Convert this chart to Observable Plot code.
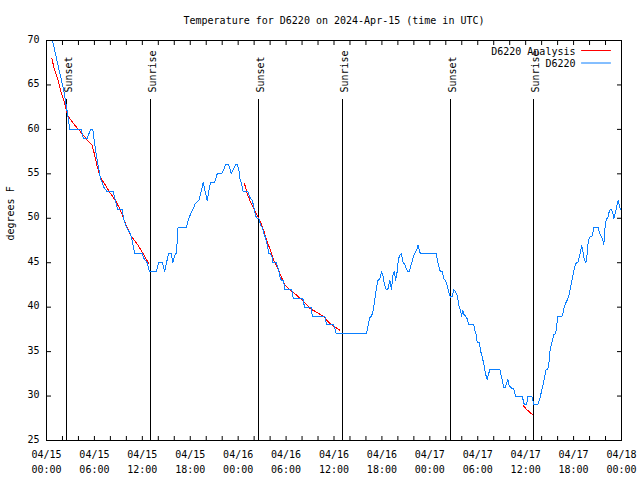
<!DOCTYPE html>
<html><head><meta charset="utf-8">
<script src="https://cdn.jsdelivr.net/npm/d3@7"></script>
<script src="https://cdn.jsdelivr.net/npm/@observablehq/plot@0.6"></script>
<style>body{margin:0;background:#fff}</style>
</head><body><div id="chart"></div>
<script>
const title = "Temperature for D6220 on 2024-Apr-15 (time in UTC)";
const yLabel = "degrees F";
const seriesNames = ["D6220 Analysis", "D6220"];
const seriesColors = ["#ff0000", "#0a7fff"];
const startUTC = "2024-04-15T00:00Z";
const endUTC = "2024-04-18T00:00Z";
const sunsets = ["2024-04-15T02:32Z", "2024-04-16T02:34Z", "2024-04-17T02:35Z"];
const sunrises = ["2024-04-15T13:04Z", "2024-04-16T13:04Z", "2024-04-17T12:59Z"];
const yTicks = [25, 30, 35, 40, 45, 50, 55, 60, 65, 70];

// [hours since 2024-04-15 00:00 UTC, temperature °F]
const obs = [
[0.75,70],[1.25,68],[1.75,66],[2.13,64.5],[2.59,62],[2.92,60],[4.35,60],[4.60,59],[5.10,59],[5.51,60],[5.80,60],[6.01,58.5],[6.17,57.5],[6.35,56.5],[6.55,55.5],[6.76,54.5],[6.97,54],[7.18,53.5],[7.60,53],[8.35,53],[8.64,52],[8.89,51],[9.48,51],[9.64,50],[10.02,49],[10.48,48.3],[10.73,47.5],[11.06,46],[11.98,46],[12.18,45.5],[12.61,45],[12.90,44],[13.77,44],[14.02,45],[14.53,45],[14.78,44],[15.28,46],[15.62,46],[15.82,45],[16.12,46],[16.28,46],[16.34,47],[16.47,49],[17.53,49],[17.82,50],[18.32,51],[18.66,51.7],[19.07,52],[19.37,53],[19.62,54],[20.12,52],[20.32,53],[20.54,54],[21.04,54],[21.38,55],[21.91,55],[22.20,55.5],[22.41,56],[22.83,56],[23.13,55],[23.67,56],[23.92,56],[24.08,55.5],[24.21,54.5],[24.38,54],[24.63,53],[25.21,53],[25.33,52.7],[25.54,52.2],[25.76,52],[25.96,51.3],[26.17,50.3],[26.38,50],[26.58,50],[26.80,49.2],[27.01,49],[27.21,48.3],[27.42,47.8],[27.64,47],[27.84,46],[28.05,46],[28.26,45.6],[28.34,45],[28.76,45],[28.96,44.5],[29.09,44],[29.30,43.2],[29.43,43],[29.68,43],[29.84,42],[30.68,42],[30.77,41.8],[30.89,41],[32.09,41],[32.31,40],[33.15,40],[33.27,39],[34.85,39],[35.06,38],[35.98,38],[36.28,37],[40.03,37],[40.16,37.4],[40.28,38],[40.48,38.8],[40.70,39],[40.91,39.6],[41.07,40.6],[41.20,41.5],[41.36,42.4],[41.49,43],[41.74,43.2],[41.95,44],[42.11,43.6],[42.32,42.6],[42.54,42],[42.74,42],[42.99,43],[43.20,42],[43.41,43.8],[43.58,44],[43.70,43],[43.91,44],[44.04,45.2],[44.20,45.8],[44.42,46],[44.54,45.6],[44.67,45],[44.83,44.9],[45.08,44.3],[45.24,44],[45.45,44],[45.58,44.5],[45.79,45.2],[45.99,45.8],[46.21,46.2],[46.42,46.6],[46.54,47],[46.67,46.4],[46.83,46],[48.80,46],[48.92,45.4],[49.05,44.9],[49.25,44.1],[49.55,44],[49.75,43.2],[49.96,43],[50.18,42.4],[50.38,41.6],[50.59,41.1],[50.80,41.2],[51.00,42],[51.21,41.7],[51.43,41.3],[51.63,40.2],[51.84,39.6],[51.97,39],[52.13,39.6],[52.25,39.2],[52.47,39],[52.68,38.7],[52.88,38],[53.51,38],[53.63,37.4],[53.84,36.8],[53.93,36],[54.22,36],[54.35,35.1],[54.56,34.4],[54.76,33.6],[54.97,32.5],[55.18,31.9],[55.31,32.3],[55.51,33],[56.76,33],[56.94,32.3],[57.10,31.6],[57.26,31],[57.48,31],[57.60,31.4],[57.76,31.9],[57.94,31.2],[58.10,31],[58.32,30.8],[58.52,30.8],[58.73,30],[59.57,30],[59.77,29.2],[59.98,29],[60.11,29],[60.27,30],[60.52,30],[60.82,29.9],[61.02,29],[61.52,29],[61.77,29.7],[61.95,30.4],[62.15,31.2],[62.36,32.1],[62.57,33],[62.77,33],[62.90,33.6],[63.02,35],[63.20,35.7],[63.32,36.2],[63.53,36.9],[63.74,37],[63.86,37.6],[63.95,38.5],[64.03,39],[64.58,39],[64.78,39.8],[64.99,40.4],[65.20,40.8],[65.40,41.3],[65.62,42.2],[65.83,43.2],[66.03,44.1],[66.24,44.8],[66.37,45],[66.53,45],[66.74,45.7],[66.87,46.2],[66.99,46.9],[67.16,46.4],[67.28,45.6],[67.49,45],[67.62,45.2],[67.78,47],[67.91,47.6],[68.12,48],[68.33,48],[68.54,49],[69.08,49],[69.25,48.3],[69.46,48],[69.66,47.5],[69.79,47],[69.87,48.4],[70.00,49.4],[70.12,50],[70.29,50],[70.41,50.6],[70.62,51],[70.75,51],[70.91,50.6],[71.04,50],[71.25,50.7],[71.46,51.6],[71.59,52],[71.75,51.4],[71.88,51]
];

const analysis1 = [[0.66,68],[1.00,66.7],[1.42,65.6],[1.84,64.1],[2.25,63],[2.67,61.5],[3.42,60.6],[4.47,59.5],[5.10,58.8],[5.72,58.2],[6.01,57.2],[6.35,55.8],[6.76,54.6],[7.39,53.7],[8.01,52.8],[8.64,52],[9.27,50.9],[9.89,49.4],[10.52,48.1],[11.36,47.1],[11.98,46.2],[12.81,44.9]];
const analysis2 = [[24.79,53.9],[25.13,52.8],[25.54,51.8],[25.96,51.1],[26.38,50.3],[26.80,49.6],[27.21,48.6],[27.64,47.3],[28.05,46.4],[28.46,45.25],[28.89,44.5],[29.30,43.6],[29.93,42.4],[30.55,41.9],[31.39,41.3],[32.22,40.6],[33.06,39.8],[33.90,39.4],[34.72,38.9],[35.56,38.1],[36.73,37.4]];
const analysis3 = [[59.73,28.9],[60.11,28.5],[60.48,28.2],[60.86,27.9]];

const t0 = new Date(startUTC).getTime();
const toDate = h => new Date(t0 + h * 3600e3);
const analysis = [analysis1, analysis2, analysis3].flatMap((seg, i) => seg.map(d => ({t: toDate(d[0]), v: d[1], seg: i})));
const obsData = obs.map(d => ({t: toDate(d[0]), v: d[1]}));

const start = new Date(startUTC), end = new Date(endUTC);
const majorTicks = d3.utcHour.every(6).range(start, new Date(end.getTime() + 1));
const minorTicks = d3.utcHour.every(2).range(start, new Date(end.getTime() + 1));

const lineShape = {draw(ctx, l) { ctx.moveTo(0, 0); ctx.lineTo(0, -l); }};

const chart = Plot.plot({
  width: 640, height: 480,
  marginLeft: 46, marginRight: 19, marginTop: 40, marginBottom: 40,
  style: {fontFamily: "DejaVu Sans Mono", fontSize: "10px", color: "black", background: "white"},
  x: {type: "utc", domain: [start, end], label: null},
  y: {domain: [25, 70], label: null},
  marks: [
    Plot.ruleX(sunsets, {x: d => new Date(d), insetTop: 59, stroke: "black", shapeRendering: "crispEdges"}),
    Plot.ruleX(sunrises, {x: d => new Date(d), insetTop: 59, stroke: "black", shapeRendering: "crispEdges"}),
    Plot.text(sunsets, {x: d => new Date(d), frameAnchor: "top", dy: 52, dx: -2, rotate: -90, textAnchor: "start", text: () => "Sunset", fill: "black"}),
    Plot.text(sunrises, {x: d => new Date(d), frameAnchor: "top", dy: 52, dx: -2, rotate: -90, textAnchor: "start", text: () => "Sunrise", fill: "black"}),
    Plot.line(analysis, {x: "t", y: "v", z: "seg", stroke: seriesColors[0], strokeWidth: 1, clip: true, shapeRendering: "crispEdges"}),
    Plot.line(obsData, {x: "t", y: "v", stroke: seriesColors[1], strokeWidth: 1, clip: true, shapeRendering: "crispEdges"}),
    Plot.frame({stroke: "black", shapeRendering: "crispEdges"}),
    Plot.axisX({anchor: "bottom", ticks: majorTicks, tickFormat: d3.utcFormat("%m/%d\n%H:%M"), tickSize: 0, tickPadding: 7, lineHeight: 1.5, label: null}),
    Plot.axisX({anchor: "bottom", ticks: minorTicks, tickSize: 4, dy: -4, fill: "none", label: null}),
    Plot.axisX({anchor: "top", ticks: minorTicks, tickSize: 4, dy: 4, fill: "none", label: null}),
    Plot.axisY({anchor: "left", ticks: yTicks, tickSize: 0, tickPadding: 7, dy: -1, label: null}),
    Plot.axisY({anchor: "left", ticks: yTicks, tickSize: 5, dx: 5, fill: "none", label: null}),
    Plot.axisY({anchor: "right", ticks: yTicks, tickSize: 5, dx: -5, fill: "none", label: null}),
    Plot.text([title], {frameAnchor: "top", dy: -24, text: d => d, fill: "black"}),
    Plot.text([yLabel], {frameAnchor: "left", dx: -36, rotate: -90, text: d => d, fill: "black"}),
    Plot.text([seriesNames[0]], {frameAnchor: "top-right", dx: -46, dy: 7, textAnchor: "end", text: d => d, fill: "black"}),
    Plot.text([seriesNames[1]], {frameAnchor: "top-right", dx: -46, dy: 19.5, textAnchor: "end", text: d => d, fill: "black"}),
    Plot.vector([0], {frameAnchor: "top-right", dx: -40, dy: 10, length: 29, rotate: 90, anchor: "start", shape: lineShape, stroke: seriesColors[0], strokeWidth: 1}),
    Plot.vector([0], {frameAnchor: "top-right", dx: -40, dy: 22.5, length: 29, rotate: 90, anchor: "start", shape: lineShape, stroke: seriesColors[1], strokeWidth: 1})
  ]
});
document.getElementById("chart").appendChild(chart);
</script>
</body></html>
